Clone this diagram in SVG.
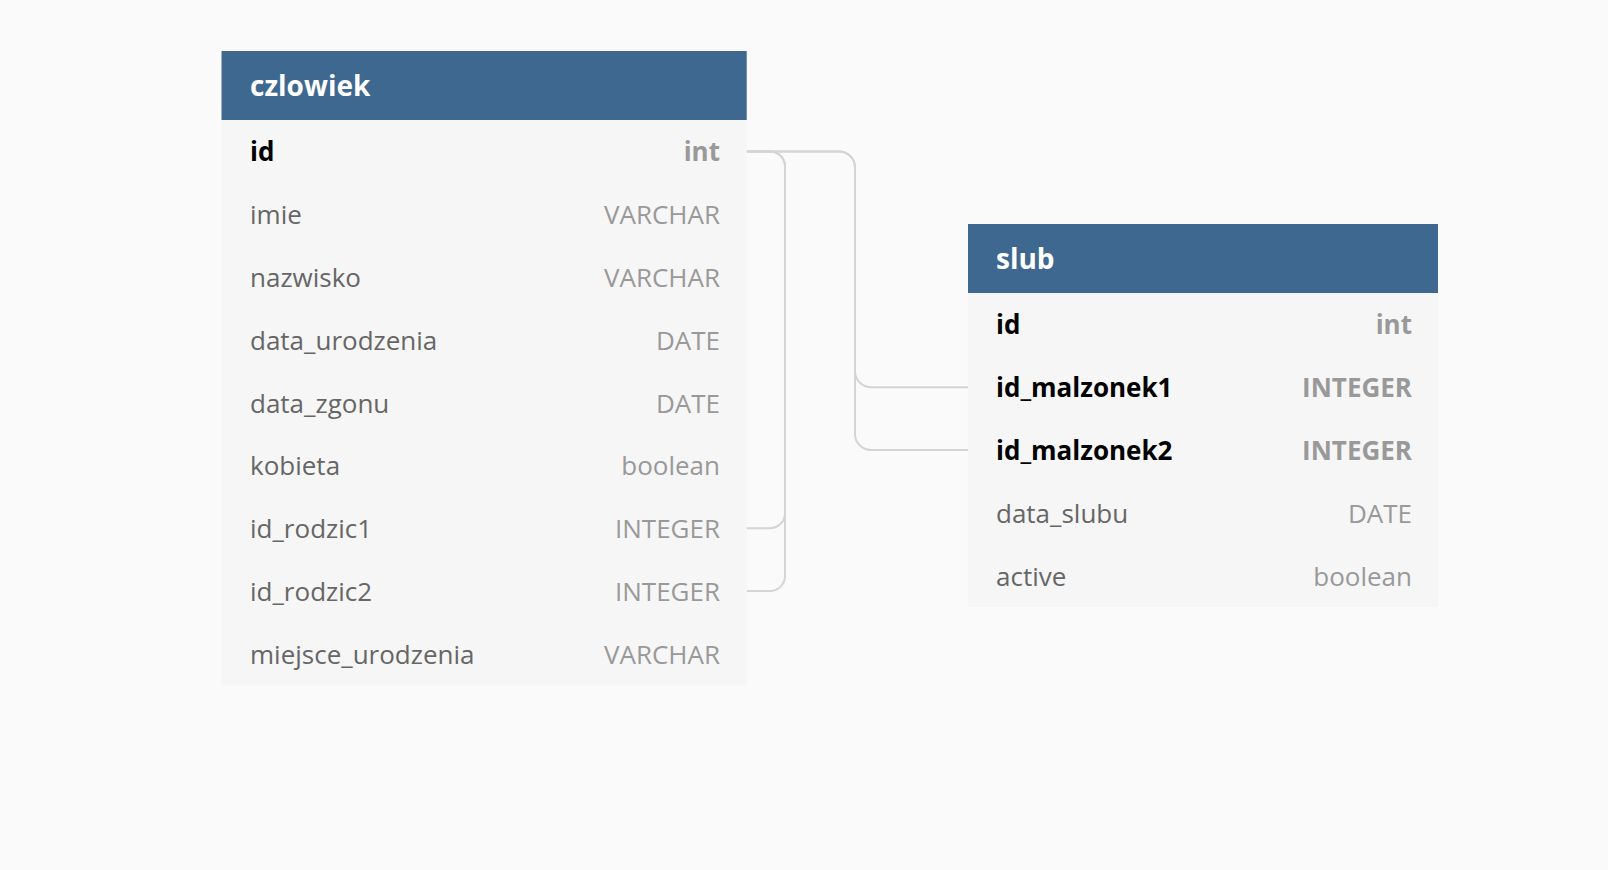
<svg xmlns="http://www.w3.org/2000/svg" width="1608" height="870" viewBox="0 0 1608 870">
<style>
.bg{fill:#fafafa}
.hdr{fill:#3e6890}
.body{fill:#f6f6f6}
.title{font-family:"Open Sans","Liberation Sans",sans-serif;font-size:28px;font-weight:700;fill:#ffffff}
.nm{font-family:"Open Sans","Liberation Sans",sans-serif;font-size:26px;fill:#666666}
.ty{font-family:"Open Sans","Liberation Sans",sans-serif;font-size:26px;fill:#999999;text-anchor:end}
.pk{font-weight:700;fill:#000000}
.pkt{font-weight:700;fill:#999999}
.conn{fill:none;stroke:#d4d4d4;stroke-width:2}
</style>
<rect class="bg" x="0" y="0" width="1608" height="870"/>
<g id="connectors">
<path class="conn" d="M746.7,151.4 H770 A15,15 0 0 1 785,166.4 V513.2 A15,15 0 0 1 770,528.2 H746.7"/>
<path class="conn" d="M746.7,151.4 H770 A15,15 0 0 1 785,166.4 V576 A15,15 0 0 1 770,591 H746.7"/>
<path class="conn" d="M746.7,151.4 H839 A16,16 0 0 1 855,167.4 V371.2 A16,16 0 0 0 871,387.2 H968"/>
<path class="conn" d="M746.7,151.4 H839 A16,16 0 0 1 855,167.4 V434 A16,16 0 0 0 871,450 H968"/>
</g>
<g id="czlowiek">
<rect class="body" x="221.5" y="120" width="525.2" height="565.2"/>
<rect class="hdr" x="221.5" y="51" width="525.2" height="69"/>
<text class="title" x="250" y="95.5">czlowiek</text>
<text class="nm pk" x="250" y="161.4">id</text><text class="ty pkt" x="720" y="161.4">int</text>
<text class="nm" x="250" y="224.2">imie</text><text class="ty" x="720" y="224.2">VARCHAR</text>
<text class="nm" x="250" y="287">nazwisko</text><text class="ty" x="720" y="287">VARCHAR</text>
<text class="nm" x="250" y="349.8">data_urodzenia</text><text class="ty" x="720" y="349.8">DATE</text>
<text class="nm" x="250" y="412.6">data_zgonu</text><text class="ty" x="720" y="412.6">DATE</text>
<text class="nm" x="250" y="475.4">kobieta</text><text class="ty" x="720" y="475.4">boolean</text>
<text class="nm" x="250" y="538.2">id_rodzic1</text><text class="ty" x="720" y="538.2">INTEGER</text>
<text class="nm" x="250" y="601">id_rodzic2</text><text class="ty" x="720" y="601">INTEGER</text>
<text class="nm" x="250" y="663.8">miejsce_urodzenia</text><text class="ty" x="720" y="663.8">VARCHAR</text>
</g>
<g id="slub">
<rect class="body" x="968" y="293" width="470" height="314"/>
<rect class="hdr" x="968" y="224" width="470" height="69"/>
<text class="title" x="996" y="268.5">slub</text>
<text class="nm pk" x="996" y="334.4">id</text><text class="ty pkt" x="1412" y="334.4">int</text>
<text class="nm pk" x="996" y="397.2">id_malzonek1</text><text class="ty pkt" x="1412" y="397.2">INTEGER</text>
<text class="nm pk" x="996" y="460">id_malzonek2</text><text class="ty pkt" x="1412" y="460">INTEGER</text>
<text class="nm" x="996" y="522.8">data_slubu</text><text class="ty" x="1412" y="522.8">DATE</text>
<text class="nm" x="996" y="585.6">active</text><text class="ty" x="1412" y="585.6">boolean</text>
</g>
</svg>
